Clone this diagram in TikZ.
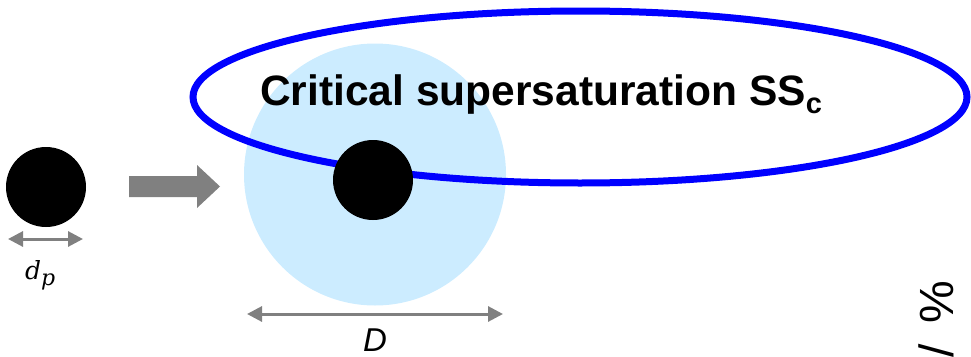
\documentclass[tikz,border=0pt]{standalone}
\usepackage{fontspec}
\setmainfont{Liberation Sans}
\newfontfamily\dpfont{DejaVu Serif}
\usetikzlibrary{arrows.meta}
\definecolor{dropblue}{RGB}{204,236,255}
\definecolor{ellblue}{RGB}{0,0,255}
\definecolor{arrgray}{RGB}{128,128,128}
\begin{document}
\begin{tikzpicture}[x=1pt,y=-1pt,
  particle/.style={circle,fill=black,inner sep=0pt,minimum size=80pt},
  dimarrow/.style={draw=arrgray,line width=3pt,{Triangle[length=15pt,width=15pt]}-{Triangle[length=15pt,width=15pt]}},
  lbl/.style={inner sep=0pt}
]
\useasboundingbox (0,0) rectangle (971,356);
\clip (0,0) rectangle (971,356);
\node[circle,fill=dropblue,inner sep=0pt,minimum size=262pt] (drop) at (375,174.5) {};
\draw[ellblue,line width=7pt] (580,97) ellipse [x radius=387pt,y radius=86pt];
\node[particle] (p1) at (46,187) {};
\node[particle] (p2) at (373,180) {};
\fill[arrgray] (129,176) -- (197,176) -- (197,165) -- (220,186.5) -- (197,208) -- (197,197) -- (129,197) -- cycle;
\coordinate (dpL) at (8,239);
\coordinate (dpR) at (83,239);
\draw[dimarrow] (dpL) -- (dpR);
\coordinate (DL) at (247,314);
\coordinate (DR) at (503,314);
\draw[dimarrow] (DL) -- (DR);
\node[lbl,anchor=base west,font=\dpfont\itshape\fontsize{25}{30}\selectfont] (dplab) at (25,279) {d\raisebox{-6pt}{\fontsize{22}{26}\selectfont p}};
\node[lbl,anchor=base,font=\itshape\fontsize{33}{40}\selectfont] (Dlab) at (375,351) {D};
\node[lbl,anchor=base west,font=\bfseries\fontsize{42.5}{50}\selectfont] (title) at (260,105.5) {Critical supersaturation SS\raisebox{-8pt}{\fontsize{29}{32}\selectfont c}};
\node[lbl,rotate=90,anchor=base east,font=\fontsize{48}{56}\selectfont] (axis) at (953,281) {/\hspace{0.42em}\%};
\end{tikzpicture}
\end{document}
